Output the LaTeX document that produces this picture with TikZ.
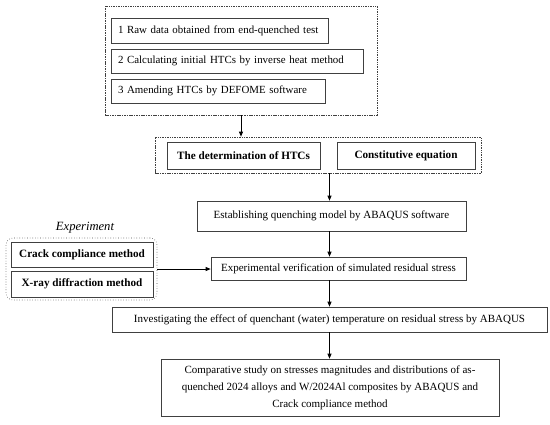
\documentclass[tikz,border=0pt]{standalone}
\usepackage{fontspec}
\setmainfont{Liberation Serif}
\usetikzlibrary{arrows.meta}
\tikzset{
  box/.style={draw=black!75, line width=0.7pt, rectangle, inner sep=0pt, font=\fontsize{11}{17}\selectfont},
  bbox/.style={box, font=\fontsize{11.2}{13}\selectfont\bfseries},
  lbox/.style={box, font=\fontsize{10.9}{13}\selectfont, inner xsep=7pt, align=left, anchor=center},
  grp/.style={draw=black!75, line width=0.7pt, dash pattern=on 1.5pt off 0.9pt, rectangle, inner sep=0pt},
  rgrp/.style={draw=black!70, line width=0.6pt, dotted, rectangle, rounded corners=7pt, inner sep=0pt},
  arr/.style={draw=black, line width=0.8pt, -{Triangle[length=5pt,width=4pt]}},
  ln/.style={draw=black, line width=0.8pt}
}
\begin{document}
\begin{tikzpicture}[x=1pt,y=-1pt]
\useasboundingbox (0,0) rectangle (550,424);
% top group
\node[grp, minimum width=272pt, minimum height=109pt] (g1) at (241,60.5) {};
\node[lbox, text width=203pt, minimum height=25pt] (b1) at (219.5,30.5) {1 Raw data obtained from end-quenched test};
\node[lbox, text width=238pt, minimum height=24pt] (b2) at (237,61) {2 Calculating initial HTCs by inverse heat method};
\node[lbox, text width=200pt, minimum height=24pt] (b3) at (218,91) {3 Amending HTCs by DEFOME software};
% second group
\node[grp, minimum width=326pt, minimum height=36pt] (g2) at (318,155) {};
\node[bbox, minimum width=153pt, minimum height=27pt] (htc) at (243.5,155.5) {The determination of HTCs};
\node[bbox, minimum width=138pt, minimum height=27pt] (ce) at (406,155.5) {Constitutive equation};
% main chain
\node[box, minimum width=269pt, minimum height=30pt] (est) at (331.5,216) {Establishing quenching model by ABAQUS software};
\node[box, minimum width=255pt, minimum height=23pt] (exv) at (338.5,268.5) {Experimental verification of simulated residual stress};
\node[box, minimum width=435pt, minimum height=25pt] (inv) at (329.5,319.5) {Investigating the effect of quenchant (water) temperature on residual stress by ABAQUS};
\node[box, minimum width=338pt, minimum height=57pt, align=center] (cmp) at (330,387.5) {Comparative study on stresses magnitudes and distributions of as-\\quenched 2024 alloys and W/2024Al composites by ABAQUS and\\Crack compliance method};
% experiment group
\node[font=\fontsize{12.6}{15}\selectfont\itshape] (expl) at (85,227.5) {Experiment};
\node[rgrp, minimum width=151pt, minimum height=62pt] (eg) at (81.5,269) {};
\node[bbox, minimum width=142pt, minimum height=25pt] (cc) at (82,254.5) {Crack compliance method};
\node[bbox, minimum width=142pt, minimum height=26pt] (xr) at (82,284) {X-ray diffraction method};
% arrows
\draw[arr] (g1.south) -- (g1.south |- g2.north);
\draw[arr] (inv.north |- g2.south) -- (inv.north |- est.north);
\draw[arr] (inv.north |- est.south) -- (inv.north |- exv.north);
\draw[arr] (inv.north |- exv.south) -- (inv.north);
\draw[arr] (inv.south) -- (inv.south |- cmp.north);
\draw[arr] (eg.east) -- (eg.east -| exv.west);
\end{tikzpicture}
\end{document}
